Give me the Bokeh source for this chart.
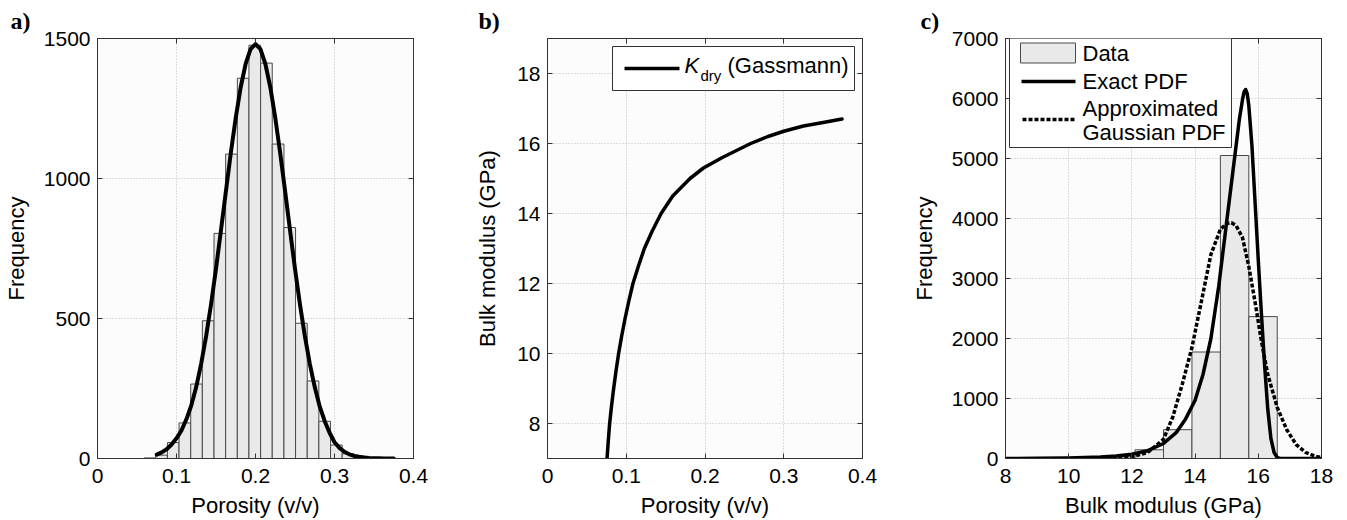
from bokeh.plotting import figure
from bokeh.layouts import row
from bokeh.models import Range1d, FixedTicker, LinearAxis, Label, BoxAnnotation, Arrow
from bokeh.embed import file_html
from bokeh.resources import INLINE

# ---------------- data ----------------
# a) porosity histogram + fitted PDF
poro_bin_edges = [0.0590, 0.0737, 0.0885, 0.1032, 0.1180, 0.1327, 0.1475, 0.1622, 0.1770, 0.1917,
                  0.2065, 0.2212, 0.2360, 0.2507, 0.2655, 0.2802, 0.2950, 0.3097, 0.3245, 0.3392]
poro_counts = [2, 12, 57, 127, 266, 492, 804, 1087, 1358, 1476,
               1412, 1123, 825, 483, 277, 133, 48, 17, 4]
poro_pdf_x = [0.075, 0.08125, 0.0875, 0.09375, 0.1, 0.10625, 0.1125, 0.11875, 0.125, 0.13125,
              0.1375, 0.14375, 0.15, 0.15625, 0.1625, 0.16875, 0.175, 0.18125, 0.1875, 0.19375,
              0.2, 0.20625, 0.2125, 0.21875, 0.225, 0.23125, 0.2375, 0.24375, 0.25, 0.25625,
              0.2625, 0.26875, 0.275, 0.28125, 0.2875, 0.29375, 0.3, 0.30625, 0.3125, 0.31875,
              0.325, 0.33125, 0.3375, 0.34375, 0.35, 0.35625, 0.3625, 0.36875, 0.375]
poro_pdf_y = [14, 22, 33, 50, 72, 100, 140, 190, 256, 339,
              437, 551, 678, 814, 954, 1091, 1217, 1326, 1409, 1462,
              1480, 1462, 1409, 1326, 1217, 1091, 954, 814, 678, 551,
              437, 338, 255, 186, 134, 92, 58, 38, 24, 15,
              9, 6, 4, 2, 1, 1, 0, 0, 0]
poro_ticks = [0, 0.1, 0.2, 0.3, 0.4]
poro_tick_labels = ["0", "0.1", "0.2", "0.3", "0.4"]
freq_a_ticks = [0, 500, 1000, 1500]
freq_a_labels = ["0", "500", "1000", "1500"]

# b) K_dry (Gassmann) vs porosity
kdry_x = [0.0756, 0.0772, 0.0789, 0.0813, 0.0840, 0.0870, 0.0903, 0.0942, 0.0985, 0.1033,
          0.1085, 0.1155, 0.1230, 0.1330, 0.1443, 0.1590, 0.1810, 0.1980, 0.2220, 0.2580,
          0.2800, 0.3000, 0.3250, 0.3500, 0.3740]
kdry_y = [7.0, 7.5, 8.0, 8.5, 9.0, 9.5, 10.0, 10.5, 11.0, 11.5,
          12.0, 12.5, 13.0, 13.5, 14.0, 14.5, 15.0, 15.3, 15.6, 16.0,
          16.2, 16.35, 16.5, 16.6, 16.7]
kdry_ticks = [8, 10, 12, 14, 16, 18]
kdry_labels = ["8", "10", "12", "14", "16", "18"]

# c) bulk modulus histogram, exact PDF and Gaussian approximation
bulk_bin_edges = [7.6, 8.5, 9.4, 10.3, 11.2, 12.1, 13.0, 13.9, 14.8, 15.7, 16.6]
bulk_counts = [1, 2, 4, 10, 30, 145, 480, 1775, 5050, 2365]
exact_x = [8.0, 9.0, 10.0, 11.0, 11.5, 12.0, 12.5, 13.0, 13.4, 13.7,
           14.0, 14.25, 14.5, 14.75, 15.0, 15.2, 15.4, 15.5, 15.55, 15.6,
           15.65, 15.7, 15.8, 15.9, 16.0, 16.1, 16.2, 16.3, 16.4, 16.5,
           16.6, 16.7, 17.0, 18.0]
exact_y = [0, 3, 10, 25, 40, 70, 130, 250, 430, 660,
           970, 1400, 2000, 2880, 3950, 4800, 5650, 5980, 6110, 6150,
           6080, 5880, 5200, 4250, 3300, 2400, 1550, 820, 330, 100,
           15, 0, 0, 0]
gauss_x = [11.0, 11.5, 12.0, 12.5, 13.0, 13.3, 13.6, 13.9, 14.2, 14.5,
           14.8, 15.0, 15.15, 15.3, 15.5, 15.7, 15.9, 16.1, 16.3, 16.6,
           16.9, 17.2, 17.5, 17.8, 18.0]
gauss_y = [5, 12, 30, 100, 320, 700, 1250, 1850, 2620, 3400,
           3820, 3915, 3930, 3880, 3680, 3200, 2600, 1950, 1400, 850,
           480, 230, 100, 35, 15]
bulk_ticks = [8, 10, 12, 14, 16, 18]
bulk_labels = ["8", "10", "12", "14", "16", "18"]
freq_c_ticks = [0, 1000, 2000, 3000, 4000, 5000, 6000, 7000]
freq_c_labels = ["0", "1000", "2000", "3000", "4000", "5000", "6000", "7000"]

# ---------------- styling ----------------
FONT = "Liberation Sans"
TICK_FS = "21px"
LAB_FS = "22px"
EDGE = "#333333"
BAR_FILL = "#e9e9e9"
BAR_LINE = "#4a4a4a"


def base_fig(width, bl, br, xr, yr, xt, xl, yt, yl, xlab, ylab, ylab_standoff, tag, tag_offset):
    p = figure(width=width, height=520, x_range=Range1d(*xr), y_range=Range1d(*yr),
               output_backend="svg", toolbar_location=None, title=tag,
               min_border_left=bl, min_border_right=br, min_border_top=37, min_border_bottom=62)
    p.title.text_font = "Liberation Serif"
    p.title.text_font_size = "24px"
    p.title.text_font_style = "bold"
    p.title.text_color = "black"
    p.title.align = "left"
    p.title.offset = tag_offset
    p.title.standoff = 10
    p.background_fill_color = "#fcfcfc"
    p.border_fill_color = "white"
    p.outline_line_color = EDGE
    p.outline_line_width = 1
    for ax, ticks, labels, lab in ((p.xaxis[0], xt, xl, xlab), (p.yaxis[0], yt, yl, ylab)):
        ax.ticker = FixedTicker(ticks=ticks)
        ax.major_label_overrides = {t: s for t, s in zip(ticks, labels)}
        ax.axis_label = lab
        ax.axis_label_text_font = FONT
        ax.axis_label_text_font_size = LAB_FS
        ax.axis_label_text_font_style = "normal"
        ax.axis_label_text_color = "black"
        ax.major_label_text_font = FONT
        ax.major_label_text_font_size = TICK_FS
        ax.major_label_text_color = "black"
        ax.major_tick_in = 5
        ax.major_tick_out = 0
        ax.minor_tick_line_color = None
        ax.major_tick_line_color = EDGE
        ax.axis_line_color = EDGE
    p.xaxis.major_label_standoff = 10
    p.xaxis.axis_label_standoff = 7
    p.yaxis.major_label_standoff = 7
    p.yaxis.axis_label_standoff = ylab_standoff
    p.xgrid.ticker = FixedTicker(ticks=xt)
    p.ygrid.ticker = FixedTicker(ticks=yt)
    for g in (p.xgrid[0], p.ygrid[0]):
        g.grid_line_color = "#bdbdbd"
        g.grid_line_dash = "1 2"
        g.grid_line_width = 1
    for side, ticks in (("right", yt), ("above", xt)):
        ax = LinearAxis(ticker=FixedTicker(ticks=ticks), major_tick_in=5, major_tick_out=0,
                        minor_tick_line_color=None, major_tick_line_color=EDGE, axis_line_color=EDGE,
                        major_label_overrides={t: "" for t in ticks}, major_label_standoff=0,
                        major_label_text_font_size="0px")
        p.add_layout(ax, side)
    return p


def screen_box(left, right, bottom, top, fill, line):
    return BoxAnnotation(left=left, right=right, bottom=bottom, top=top,
                         left_units="screen", right_units="screen",
                         bottom_units="screen", top_units="screen",
                         fill_color=fill, fill_alpha=1, line_color=line, line_width=1, line_alpha=1)


def screen_line(x0, x1, y, dash="solid"):
    return Arrow(x_start=x0, y_start=y, x_end=x1, y_end=y, start_units="screen", end_units="screen",
                 start=None, end=None, line_width=3.5, line_color="black", line_dash=dash)


def screen_text(x, y, text, size="22px", style="normal"):
    return Label(x=x, y=y, x_units="screen", y_units="screen", text=text, text_font=FONT,
                 text_font_size=size, text_font_style=style, text_color="black",
                 text_baseline="alphabetic")


# ---------------- panel a ----------------
pa = base_fig(460, 97, 47, (0, 0.4), (0, 1500), poro_ticks, poro_tick_labels,
              freq_a_ticks, freq_a_labels, "Porosity (v/v)", "Frequency", 12, "a)", -87)
pa.quad(left=poro_bin_edges[:-1], right=poro_bin_edges[1:], bottom=0, top=poro_counts,
        fill_color=BAR_FILL, line_color=BAR_LINE, line_width=1)
pa.line(poro_pdf_x, poro_pdf_y, line_color="black", line_width=4, line_join="round", line_cap="round")

# ---------------- panel b ----------------
pb = base_fig(448, 87, 46, (0, 0.4), (7, 19), poro_ticks, poro_tick_labels,
              kdry_ticks, kdry_labels, "Porosity (v/v)", "Bulk modulus (GPa)", 14, "b)", -69)
pb.line(kdry_x, kdry_y, line_color="black", line_width=3.5, line_join="round", line_cap="round")
pb.add_layout(screen_box(65, 307, 368, 412, "white", EDGE))
pb.add_layout(screen_line(77, 132, 390))
pb.add_layout(screen_text(137, 393, "K", style="italic"))
pb.add_layout(screen_text(153, 383, "dry", size="15px"))
pb.add_layout(screen_text(180, 393, "(Gassmann)"))

# ---------------- panel c ----------------
pc = base_fig(439, 97, 26, (8, 18), (0, 7000), bulk_ticks, bulk_labels,
              freq_c_ticks, freq_c_labels, "Bulk modulus (GPa)", "Frequency", 12, "c)", -85)
pc.quad(left=bulk_bin_edges[:-1], right=bulk_bin_edges[1:], bottom=0, top=bulk_counts,
        fill_color=BAR_FILL, line_color=BAR_LINE, line_width=1)
pc.line(gauss_x, gauss_y, line_color="black", line_width=3.5, line_dash="4 2")
pc.line(exact_x, exact_y, line_color="black", line_width=3.5, line_join="round")
# legend (drawn by hand so that the two-line entry matches the reference)
pc.add_layout(screen_box(4, 226, 311, 420.5, "white", EDGE))
pc.add_layout(screen_box(15, 70, 395.5, 415.5, BAR_FILL, BAR_LINE))
pc.add_layout(screen_text(77, 405, "Data"))
pc.add_layout(screen_line(16, 70, 377))
pc.add_layout(screen_text(77, 377, "Exact PDF"))
pc.add_layout(screen_line(17, 70, 339, "4 2"))
pc.add_layout(screen_text(77, 350, "Approximated"))
pc.add_layout(screen_text(77, 326, "Gaussian PDF"))

layout = row(pa, pb, pc)
open("out.html", "w").write(file_html(layout, INLINE))
